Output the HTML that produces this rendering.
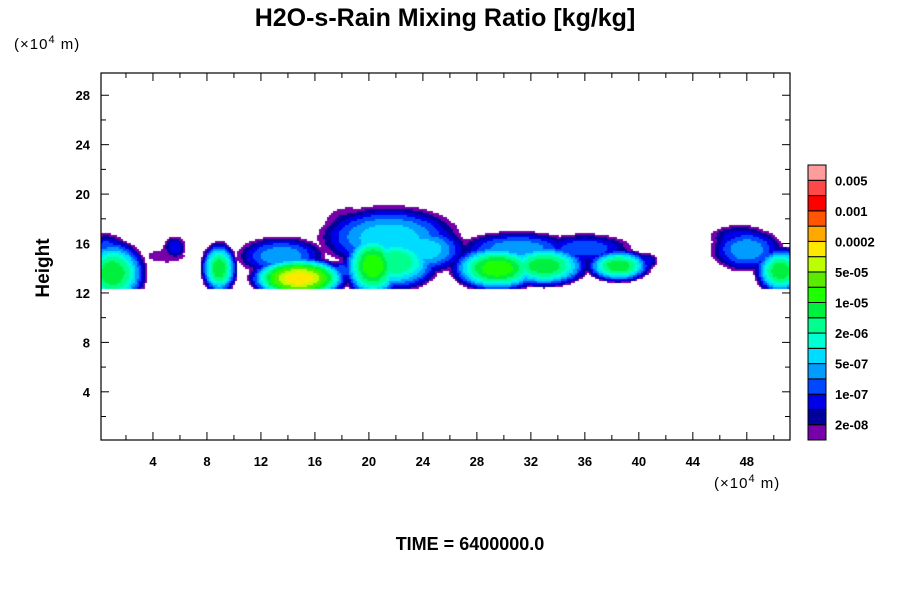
<!DOCTYPE html>
<html><head><meta charset="utf-8">
<style>
body{margin:0;background:#fff;width:900px;height:600px;overflow:hidden;font-family:"Liberation Sans",sans-serif;}
#wrap{position:relative;width:900px;height:600px;}
</style></head>
<body><div id="wrap">
<svg id="svg" width="900" height="600" style="position:absolute;left:0;top:0">
<text x="445" y="26" text-anchor="middle" font-size="25" font-weight="bold">H2O-s-Rain Mixing Ratio [kg/kg]</text>
<text x="14" y="49" font-size="15" letter-spacing="1">(×10<tspan dy="-6" font-size="11">4</tspan><tspan dy="6"> m)</tspan></text>
<text x="714" y="488" font-size="15" letter-spacing="1">(×10<tspan dy="-6" font-size="11">4</tspan><tspan dy="6"> m)</tspan></text>
<text x="49" y="268" font-size="19" font-weight="bold" text-anchor="middle" transform="rotate(-90 49 268)">Height</text>
<text x="470" y="550" font-size="18" font-weight="bold" text-anchor="middle">TIME = 6400000.0</text>
<g id="axes"></g><g id="cbar"></g>
</svg>
<canvas id="cv" width="689" height="367" style="position:absolute;left:101px;top:73px"></canvas>
<svg width="900" height="600" style="position:absolute;left:0;top:0;pointer-events:none"><rect x="101" y="73" width="689" height="367" fill="none" stroke="#000" stroke-width="1.2"/></svg>
</div>
<script>
const xTicks=[4,8,12,16,20,24,28,32,36,40,44,48];
const yTicks=[4,8,12,16,20,24,28];
const levelLabels=["0.005","0.001","0.0002","5e-05","1e-05","2e-06","5e-07","1e-07","2e-08"];
const levelColors=["#7800a8","#00009c","#0000e8","#0048ff","#009cff","#00dcff","#00ffd2","#00ff8c","#00f040","#1eff00","#5aec00","#bcff00","#ffe800","#ffa800","#ff5400","#ff0000","#ff4848","#ff9c9c"];
// blobs: centre x, centre y, spread x, spread y, peak level
const blobX=[1.0,0.5,5.6,5.0,8.9,14.8,13.5,18,20.3,21.5,24,18.5,22,29.5,33,38.5,31,36,40.5,48,50.5,47.5];
const blobY=[13.6,15.5,15.7,15.0,14.0,13.2,15.0,13.8,14.2,16.5,15.5,17.2,14.5,14.0,14.2,14.2,15.6,15.6,14.6,15.5,13.8,16.5];
const blobSX=[2.6,1.6,0.8,1.3,1.4,3.8,3.3,1.8,2.3,5.3,3.4,1.8,3.4,3.6,3.4,2.5,4.4,3.4,0.9,2.7,2.0,2.2];
const blobSY=[2.8,1.3,0.9,0.5,2.2,1.8,1.6,0.8,2.9,2.6,2.0,1.7,2.4,2.0,1.8,1.4,1.4,1.2,0.6,1.8,2.0,1.0];
const blobPeak=[8,3,2,0,8,12,4,3,9,5,5,1,7,9,8,8,4,3,2,4,8,2];
const X0=101,X1=790,Y0=440,Y1=73,xmin=0.15,xmax=51.2,ymin=0.1,ymax=29.8;
function sx(v){return X0+(v-xmin)/(xmax-xmin)*(X1-X0);}
function sy(v){return Y0-(v-ymin)/(ymax-ymin)*(Y0-Y1);}
const NS="http://www.w3.org/2000/svg";
function mk(tag,attrs,parent){const e=document.createElementNS(NS,tag);for(const k in attrs)e.setAttribute(k,attrs[k]);parent.appendChild(e);return e;}
const ax=document.getElementById('axes');
for(let v=2;v<51;v+=2){const x=sx(v);const maj=v%4===0;
 const t=mk('line',{x1:x,x2:x,y1:Y0,y2:Y0-(maj?8:5),stroke:'#000'},ax);
 
 const t2=mk('line',{x1:x,x2:x,y1:Y1,y2:Y1+(maj?8:5),stroke:'#000'},ax);
 }
for(let v=2;v<30;v+=2){const y=sy(v);const maj=v%4===0;
 const t=mk('line',{x1:X0,x2:X0+(maj?8:5),y1:y,y2:y,stroke:'#000'},ax);
 
 const t2=mk('line',{x1:X1,x2:X1-(maj?8:5),y1:y,y2:y,stroke:'#000'},ax);
 }
xTicks.forEach(v=>{const t=mk('text',{x:sx(v),y:466,'text-anchor':'middle','font-size':13,'font-weight':'bold'},ax);t.textContent=v;
 });
yTicks.forEach(v=>{const t=mk('text',{x:90,y:sy(v)+5,'text-anchor':'end','font-size':13,'font-weight':'bold'},ax);t.textContent=v;
 });
const cb=document.getElementById('cbar');const cbTop=165,cbBot=440,n=levelColors.length,bh=(cbBot-cbTop)/n;
for(let i=0;i<n;i++){const r=mk('rect',{x:808,y:cbBot-(i+1)*bh,width:18,height:bh,fill:levelColors[i],stroke:'#000','stroke-width':1},cb);
 }
levelLabels.forEach((l,j)=>{const t=mk('text',{x:835,y:cbTop+(2*j+1)*bh+5,'font-size':13,'font-weight':'bold'},cb);t.textContent=l;
 });
const cv=document.getElementById('cv'),ctx=cv.getContext('2d');const cs=2;
for(let py=0;py<cv.height;py+=cs){for(let px=0;px<cv.width;px+=cs){
 const dx=xmin+(px+cs/2)/(X1-X0)*(xmax-xmin);const dy=ymax-(py+cs/2)/(Y0-Y1)*(ymax-ymin);
 if(dy<12.3)continue;let best=-1;
 for(let b=0;b<blobX.length;b++){const r2=((dx-blobX[b])/blobSX[b])**2+((dy-blobY[b])/blobSY[b])**2;
  if(r2<1){const l=(blobPeak[b]+1)*(1-r2);if(l>best)best=l;}}
 if(best>=0){ctx.fillStyle=levelColors[Math.min(n-1,Math.floor(best))];ctx.fillRect(px,py,cs,cs);}
}}
</script>
</body></html>
